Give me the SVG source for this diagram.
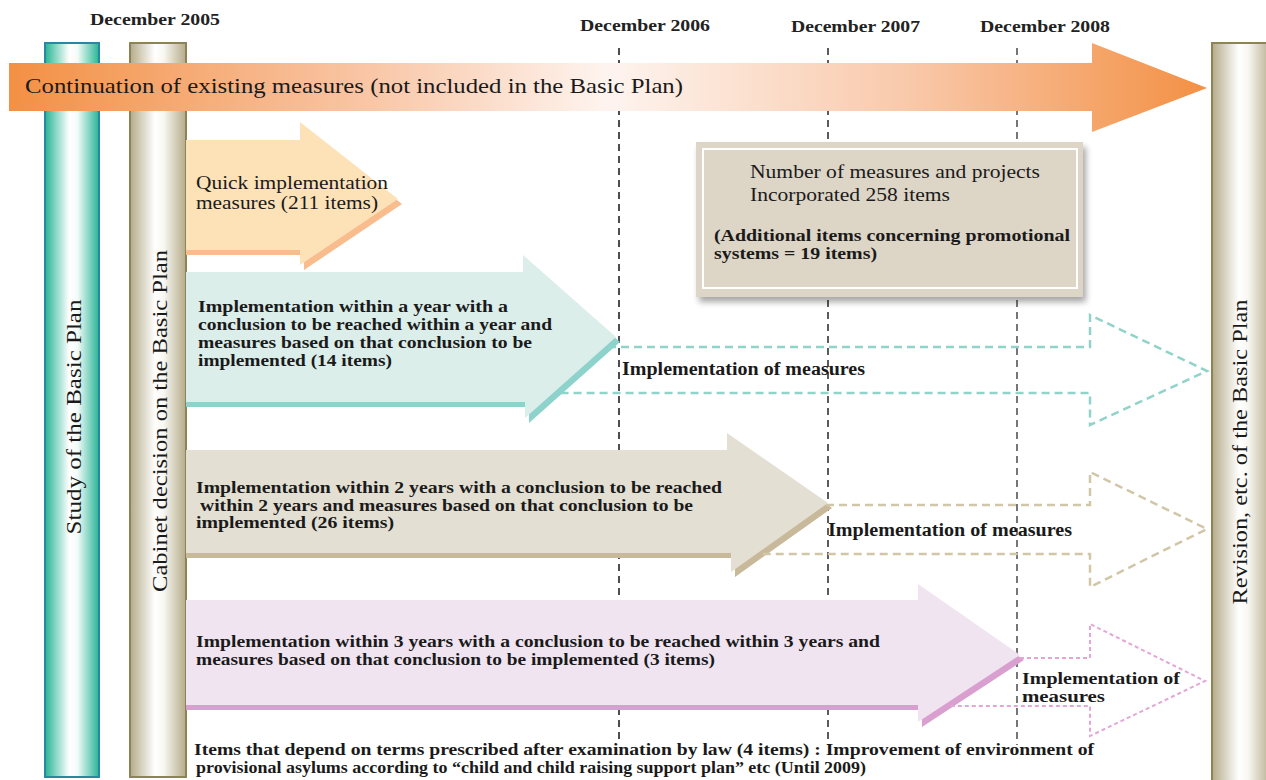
<svg xmlns="http://www.w3.org/2000/svg" width="1266" height="780" viewBox="0 0 1266 780">
<style>
.serif{font-family:"Liberation Serif","DejaVu Serif",serif;fill:#1a1a1a}
.b{font-weight:bold}
.date{font-family:"Liberation Serif",serif;font-weight:bold;font-size:17px;fill:#222}
.vline{fill:none;stroke-width:1.6;stroke-dasharray:7 5}
.dteal{fill:none;stroke:#8fd3c9;stroke-width:2.5;stroke-dasharray:8 5}
.dbeige{fill:none;stroke:#d2c6a9;stroke-width:2.5;stroke-dasharray:8 5}
.dpink{fill:none;stroke:#e4a6d6;stroke-width:2;stroke-dasharray:4 3}
</style>
<defs>
<linearGradient id="gOrange" x1="9" y1="0" x2="1207" y2="0" gradientUnits="userSpaceOnUse">
<stop offset="0" stop-color="#f39044"/>
<stop offset="0.3" stop-color="#f9c6a6"/>
<stop offset="0.5" stop-color="#fef4ef"/>
<stop offset="0.75" stop-color="#f9c9ab"/>
<stop offset="1" stop-color="#f39044"/>
</linearGradient>
<linearGradient id="gTeal" x1="0" y1="0" x2="1" y2="0">
<stop offset="0" stop-color="#27b597"/>
<stop offset="0.45" stop-color="#ffffff"/>
<stop offset="0.6" stop-color="#f4fbf8"/>
<stop offset="1" stop-color="#27b597"/>
</linearGradient>
<linearGradient id="gOlive" x1="0" y1="0" x2="1" y2="0">
<stop offset="0" stop-color="#b4ab88"/>
<stop offset="0.45" stop-color="#ffffff"/>
<stop offset="0.6" stop-color="#f8f7f2"/>
<stop offset="1" stop-color="#b4ab88"/>
</linearGradient>
<filter id="sh" x="-10%" y="-10%" width="120%" height="130%">
<feGaussianBlur in="SourceAlpha" stdDeviation="3"/>
<feOffset dx="3" dy="5"/>
<feComponentTransfer><feFuncA type="linear" slope="0.35"/></feComponentTransfer>
<feMerge><feMergeNode/><feMergeNode in="SourceGraphic"/></feMerge>
</filter>
</defs>

<rect width="1266" height="780" fill="#ffffff"/>

<!-- timeline labels -->
<g id="dates">
<text class="date" x="90" y="25" textLength="130" lengthAdjust="spacingAndGlyphs">December 2005</text>
<text class="date" x="580" y="31" textLength="130" lengthAdjust="spacingAndGlyphs">December 2006</text>
<text class="date" x="791" y="32" textLength="129" lengthAdjust="spacingAndGlyphs">December 2007</text>
<text class="date" x="980" y="32" textLength="130" lengthAdjust="spacingAndGlyphs">December 2008</text>
</g>

<!-- dashed time lines -->
<g id="timelines">
<line class="vline" x1="619" y1="48" x2="619" y2="740" stroke="#222"/>
<line class="vline" x1="828" y1="48" x2="828" y2="745" stroke="#333"/>
<line class="vline" x1="1017" y1="48" x2="1017" y2="745" stroke="#555"/>
</g>

<!-- bars -->
<g id="study">
<rect x="45" y="43" width="54" height="734" fill="url(#gTeal)" stroke="#2b86a0" stroke-width="2"/>
<text class="serif" font-size="21" transform="translate(81,417) rotate(-90)" text-anchor="middle" textLength="235" lengthAdjust="spacingAndGlyphs">Study of the Basic Plan</text>
</g>
<g id="cabinet">
<rect x="130" y="43" width="56" height="734" fill="url(#gOlive)" stroke="#8c8456" stroke-width="2"/>
<text class="serif" font-size="21" transform="translate(167,421) rotate(-90)" text-anchor="middle" textLength="342" lengthAdjust="spacingAndGlyphs">Cabinet decision on the Basic Plan</text>
</g>
<g id="revision">
<rect x="1212" y="43" width="60" height="740" fill="url(#gOlive)" stroke="#8c8456" stroke-width="2"/>
<text class="serif" font-size="21" transform="translate(1247,452) rotate(-90)" text-anchor="middle" textLength="305" lengthAdjust="spacingAndGlyphs">Revision, etc. of the Basic Plan</text>
</g>

<!-- top arrow -->
<g id="continuation">
<polygon points="9,63 1092,63 1092,43 1207,88 1092,132 1092,111 9,111" fill="url(#gOrange)"/>
<text class="serif" font-size="22" x="25" y="93" textLength="658" lengthAdjust="spacingAndGlyphs">Continuation of existing measures (not included in the Basic Plan)</text>
</g>

<!-- quick arrow -->
<g id="quick">
<polygon points="186,145 304,145 304,127 402,204 304,270 304,255 186,255" fill="#f8bc8d"/>
<polygon points="186,140 300,140 300,122 398,199 300,265 300,250 186,250" fill="#fde2b8"/>
<text class="serif" font-size="19" x="196" y="189" textLength="192" lengthAdjust="spacingAndGlyphs">Quick implementation</text>
<text class="serif" font-size="19" x="196" y="209" textLength="182" lengthAdjust="spacingAndGlyphs">measures (211 items)</text>
</g>

<!-- one year arrow -->
<g id="oneyear">
<polygon points="186,277 527,277 527,260 620,342 529,423 529,407 186,407" fill="#8dd3cb"/>
<polygon points="186,272 523,272 523,255 616,337 525,418 525,402 186,402" fill="#dceeea"/>
<text class="serif b" font-size="17" x="198" y="312" textLength="310" lengthAdjust="spacingAndGlyphs">Implementation within a year with a</text>
<text class="serif b" font-size="17" x="198" y="330" textLength="354" lengthAdjust="spacingAndGlyphs">conclusion to be reached within a year and</text>
<text class="serif b" font-size="17" x="198" y="348" textLength="334" lengthAdjust="spacingAndGlyphs">measures based on that conclusion to be</text>
<text class="serif b" font-size="17" x="198" y="366" textLength="194" lengthAdjust="spacingAndGlyphs">implemented (14 items)</text>
</g>

<!-- two year arrow -->
<g id="twoyear">
<polygon points="186,455 731,455 731,438 832,508 735,577 735,558 186,558" fill="#c9b99b"/>
<polygon points="186,450 727,450 727,433 828,503 731,572 731,553 186,553" fill="#e3dfd3"/>
<text class="serif b" font-size="17" x="196" y="493" textLength="526" lengthAdjust="spacingAndGlyphs">Implementation within 2 years with a conclusion to be reached</text>
<text class="serif b" font-size="17" x="200" y="511" textLength="493" lengthAdjust="spacingAndGlyphs">within 2 years and measures based on that conclusion to be</text>
<text class="serif b" font-size="17" x="196" y="528" textLength="198" lengthAdjust="spacingAndGlyphs">implemented (26 items)</text>
</g>

<!-- three year arrow -->
<g id="threeyear">
<polygon points="186,605 922,605 922,589 1024,660 922,727 922,710 186,710" fill="#d9a0cf"/>
<polygon points="186,600 918,600 918,584 1020,655 918,722 918,705 186,705" fill="#f0e4f1"/>
<text class="serif b" font-size="17" x="196" y="647" textLength="684" lengthAdjust="spacingAndGlyphs">Implementation within 3 years with a conclusion to be reached within 3 years and</text>
<text class="serif b" font-size="17" x="196" y="665" textLength="519" lengthAdjust="spacingAndGlyphs">measures based on that conclusion to be implemented (3 items)</text>
</g>

<!-- dashed follow-up arrows -->
<g id="connectors">
<polyline class="dteal" points="608,347 1090,347 1090,315 1207,371 1090,425 1090,393 557,393"/>
<polyline class="dbeige" points="826,505 1090,505 1090,472 1207,529 1090,587 1090,554 758,554"/>
<polyline class="dpink" points="1020,658 1090,658 1090,624 1205,681 1090,736 1090,706 950,706"/>
</g>

<g id="impl1">
<text class="serif b" font-size="18" x="622" y="375" textLength="243" lengthAdjust="spacingAndGlyphs">Implementation of measures</text>
</g>
<g id="impl2">
<text class="serif b" font-size="18" x="828" y="536" textLength="244" lengthAdjust="spacingAndGlyphs">Implementation of measures</text>
</g>
<g id="impl3">
<text class="serif b" font-size="17" x="1022" y="684" textLength="158" lengthAdjust="spacingAndGlyphs">Implementation of</text>
<text class="serif b" font-size="17" x="1022" y="702" textLength="83" lengthAdjust="spacingAndGlyphs">measures</text>
</g>

<!-- summary box -->
<g id="summary">
<rect x="696" y="142" width="387" height="155" fill="#ddd5c6" filter="url(#sh)"/>
<rect x="703" y="149" width="374" height="139" fill="none" stroke="#ffffff" stroke-width="2"/>
<text class="serif" font-size="18" x="750" y="178" textLength="290" lengthAdjust="spacingAndGlyphs">Number of measures and projects</text>
<text class="serif" font-size="18" x="750" y="201" textLength="200" lengthAdjust="spacingAndGlyphs">Incorporated 258 items</text>
<text class="serif b" font-size="16" x="714" y="241" textLength="356" lengthAdjust="spacingAndGlyphs">(Additional items concerning promotional</text>
<text class="serif b" font-size="16" x="714" y="259" textLength="163" lengthAdjust="spacingAndGlyphs">systems = 19 items)</text>
</g>

<!-- legal items note -->
<g id="legal">
<text class="serif b" font-size="17" x="194" y="755" textLength="900" lengthAdjust="spacingAndGlyphs">Items that depend on terms prescribed after examination by law (4 items) : Improvement of environment of</text>
<text class="serif b" font-size="17" x="196" y="773" textLength="670" lengthAdjust="spacingAndGlyphs">provisional asylums according to “child and child raising support plan” etc (Until 2009)</text>
</g>
</svg>
